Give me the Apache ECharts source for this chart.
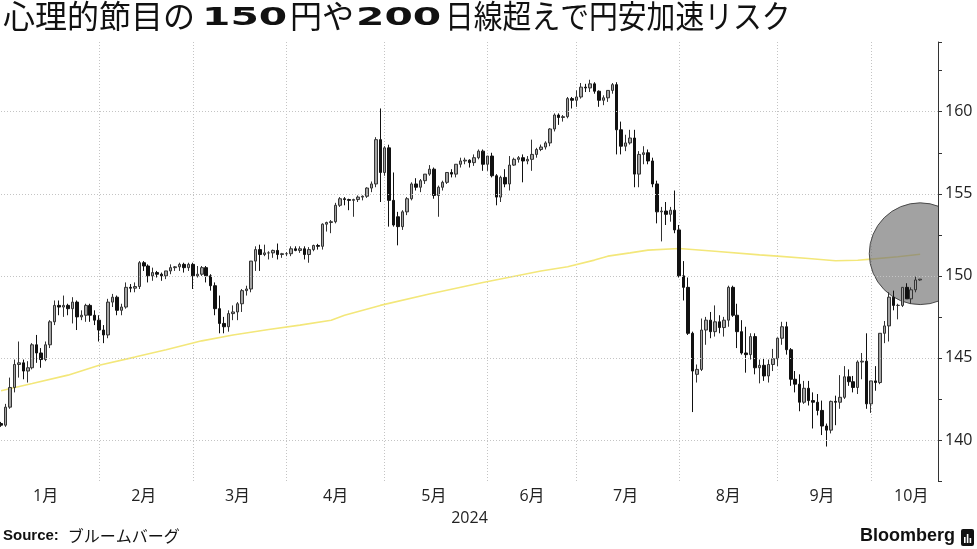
<!DOCTYPE html>
<html><head><meta charset="utf-8">
<script src="https://cdn.jsdelivr.net/npm/echarts@6/dist/echarts.min.js"></script>
<style>html,body{margin:0;padding:0;background:#fff}#c{width:977px;height:549px}</style>
</head><body><div id="c"></div>
<script>
// Daily USD/JPY candles [open, high, low, close], one per trading day from 2024-01-01
const ohlc = [
// Jan
[141.0,141.1,140.8,140.9],[140.9,142.2,140.8,142.0],[142.0,143.8,141.9,143.2],[143.2,144.9,142.9,144.6],
[144.6,146.0,143.8,144.7],[144.7,144.9,143.7,144.2],[144.2,144.8,143.5,144.4],[144.4,145.9,144.3,145.8],
[145.8,146.4,144.7,145.3],[145.3,145.6,144.4,144.9],[144.9,146.0,144.8,145.8],[145.8,147.3,145.6,147.2],
[147.2,148.5,147.0,148.2],[148.2,148.5,147.6,148.1],[148.1,148.8,147.5,148.2],[148.2,148.3,147.6,148.0],
[148.0,148.7,147.1,148.4],[148.4,148.5,146.7,147.5],[147.5,147.9,147.3,147.6],[147.6,148.3,147.2,148.2],
[148.2,148.3,147.2,147.6],[147.6,147.9,147.0,147.3],[147.3,147.6,146.0,146.7],
// Feb
[146.7,147.0,145.9,146.4],[146.4,148.6,146.2,148.4],[148.4,148.9,148.1,148.7],[148.7,148.8,147.6,147.9],
[147.9,148.3,147.6,148.1],[148.1,149.6,148.0,149.3],[149.3,149.5,149.0,149.25],[149.25,149.6,149.0,149.35],
[149.35,150.9,149.2,150.8],[150.8,150.9,150.3,150.6],[150.6,150.7,149.6,150.0],[150.0,150.5,149.7,150.2],
[150.2,150.3,149.9,150.1],[150.1,150.2,149.7,150.0],[150.0,150.3,149.8,150.3],[150.3,150.7,150.1,150.5],
[150.5,150.6,150.3,150.55],[150.55,150.8,150.3,150.7],[150.7,150.8,150.2,150.5],[150.5,150.8,150.3,150.7],
[150.7,150.8,149.2,150.0],
// Mar
[150.0,150.6,149.9,150.1],[150.1,150.6,150.0,150.5],[150.5,150.6,149.6,150.0],[150.0,150.1,149.1,149.4],
[149.4,149.6,147.6,148.0],[148.0,148.8,146.5,147.1],[147.1,147.5,146.5,146.9],[146.9,147.9,146.6,147.7],
[147.7,148.2,147.3,147.8],[147.8,148.4,147.3,148.3],[148.3,149.2,147.8,149.1],[149.1,149.4,148.8,149.2],
[149.2,150.9,149.0,150.9],[150.9,151.8,150.3,151.6],[151.6,151.9,150.3,151.3],[151.3,151.9,151.2,151.4],
[151.4,151.5,151.0,151.4],[151.4,151.6,151.1,151.55],[151.55,151.97,151.0,151.3],[151.3,151.4,151.1,151.35],
[151.35,151.45,151.2,151.35],
// Apr
[151.35,151.8,151.2,151.65],[151.65,151.8,151.5,151.55],[151.55,151.8,151.4,151.65],[151.65,151.8,151.0,151.3],
[151.3,151.75,150.8,151.6],[151.6,151.9,151.5,151.85],[151.85,151.95,151.6,151.8],[151.8,153.2,151.6,153.15],
[153.15,153.3,152.7,153.25],[153.25,153.4,152.6,153.3],[153.3,154.45,153.2,154.3],[154.3,154.8,154.2,154.7],
[154.7,154.8,154.3,154.65],[154.65,154.7,154.0,154.6],[154.6,154.7,153.6,154.65],[154.65,154.9,154.5,154.8],
[154.8,154.9,154.6,154.85],[154.85,155.4,154.75,155.35],[155.35,155.75,155.1,155.6],[155.6,158.45,155.4,158.3],
[158.3,160.2,154.5,156.3],[156.3,157.9,156.1,157.8],
// May
[157.8,157.99,153.0,154.6],[154.6,156.3,153.0,153.1],[153.6,153.9,151.86,153.0],[153.0,154.0,152.8,153.9],
[153.9,154.8,153.7,154.7],[154.7,155.7,154.6,155.6],[155.6,155.95,155.2,155.4],[155.4,155.9,155.1,155.8],
[155.8,156.2,155.6,156.2],[156.2,156.75,156.1,156.5],[156.5,156.6,154.7,154.9],[154.9,155.5,153.6,155.4],
[155.4,155.8,155.2,155.7],[155.7,156.3,155.6,156.3],[156.3,156.5,156.0,156.2],[156.2,156.8,156.0,156.8],
[156.8,157.2,156.6,157.0],[157.0,157.2,156.8,157.05],[157.05,157.1,156.6,156.9],[156.9,157.4,156.7,157.2],
[157.2,157.7,157.1,157.6],[157.6,157.7,156.4,156.8],[156.8,157.3,156.4,157.3],
// Jun
[157.3,157.5,156.0,156.1],[156.1,156.2,154.3,154.8],[154.8,156.1,154.5,156.0],[156.0,156.5,155.4,155.6],
[155.6,157.3,155.2,156.75],[156.75,157.2,156.7,157.1],[157.1,157.3,156.9,157.2],[157.2,157.4,155.7,157.0],
[157.0,157.3,156.8,157.1],[157.1,158.3,156.4,157.4],[157.4,157.8,157.2,157.7],[157.7,158.0,157.6,157.85],
[157.85,158.2,157.7,158.1],[158.1,159.0,157.9,158.95],[158.95,159.9,158.8,159.8],[159.8,159.9,159.2,159.65],
[159.65,159.8,159.4,159.7],[159.7,160.9,159.6,160.8],[160.8,160.9,160.2,160.7],[160.7,161.3,160.3,160.9],
// Jul
[160.9,161.75,160.8,161.5],[161.5,161.7,161.2,161.45],[161.45,161.95,161.2,161.7],[161.7,161.8,161.1,161.25],
[161.25,161.3,160.3,160.7],[160.7,161.0,160.4,160.85],[160.85,161.3,160.6,161.3],[161.3,161.75,161.1,161.65],
[161.65,161.8,157.4,158.9],[158.9,159.4,157.4,157.9],[157.9,158.6,157.6,158.1],[158.1,158.9,158.0,158.4],
[158.4,158.9,155.4,156.2],[156.2,157.6,155.4,157.4],[157.4,157.9,156.8,157.5],[157.5,157.7,156.8,157.0],
[157.0,157.2,155.4,155.6],[155.6,155.8,153.2,153.9],[153.9,154.2,152.1,153.95],[153.95,154.5,153.1,153.75],
[153.75,154.2,153.3,154.0],[154.0,155.2,152.6,152.8],[152.8,153.1,149.9,150.0],
// Aug
[150.0,150.9,148.5,149.3],[149.3,149.9,146.4,146.5],[146.5,146.6,141.7,144.2],[144.0,144.6,143.5,144.3],
[144.3,147.4,144.2,146.7],[146.7,147.5,145.8,147.3],[147.3,147.8,146.2,146.6],[146.6,148.2,146.3,147.2],
[147.2,147.6,146.5,146.85],[146.85,147.5,146.3,147.3],[147.3,149.4,146.9,149.3],[149.3,149.4,147.5,147.6],
[147.6,148.3,145.6,146.6],[146.6,147.3,145.2,145.3],[145.3,146.9,144.1,145.2],[145.2,146.5,144.9,146.3],
[146.3,146.5,144.0,144.4],[144.4,144.9,143.45,144.55],[144.55,145.0,143.6,143.9],[143.9,144.9,143.5,144.6],
[144.6,145.55,144.2,144.95],[144.95,146.25,144.5,146.2],
// Sep
[146.2,147.2,145.8,146.9],[146.9,147.2,145.2,145.5],[145.5,145.6,143.3,143.7],[143.7,144.2,142.9,143.4],
[143.4,144.0,141.75,142.3],[142.3,143.6,142.2,143.15],[143.15,143.6,142.1,142.4],[142.4,142.9,140.7,142.3],
[142.3,142.8,141.5,141.8],[141.8,142.4,140.3,140.85],[140.85,141.0,139.6,140.6],[140.6,142.4,140.4,142.35],
[142.35,142.7,140.9,142.3],[142.3,143.95,141.9,142.6],[142.6,144.5,142.5,143.85],[143.85,144.3,143.3,143.55],
[143.55,143.9,142.9,143.2],[143.2,144.85,142.8,144.75],[144.75,145.3,143.7,144.8],[144.8,146.5,141.9,142.2],
[142.2,143.6,141.65,143.6],
// Oct
[143.6,144.5,143.0,143.5],[143.5,146.5,143.4,146.5],[146.5,147.25,145.9,146.95],[146.95,149.0,146.0,148.7],
[148.7,149.1,147.9,148.2],[148.2,148.3,147.35,148.2],[148.2,149.3,148.1,149.3],[149.3,149.55,148.6,148.6],
[148.6,149.3,148.3,149.15],[149.15,149.95,149.0,149.75],[149.75,149.8,149.7,149.8]
];
// 200-day moving average: [trading-day index, value]
const maPoints = [
[0,143.0],[7,143.44],[15,143.95],[22,144.55],[30,145.05],[37,145.5],[45,146.04],[52,146.4],
[60,146.73],[67,147.0],[74,147.3],[77,147.6],[85,148.2],[96,148.9],[108,149.6],[121,150.3],
[127,150.55],[133,150.96],[136,151.2],[141,151.4],[145,151.57],[152,151.67],[160,151.5],
[170,151.28],[174,151.2],[181,151.06],[187,150.92],[192,150.95],[195,151.02],[201,151.16],[206,151.32]
];
const yGridValues = [140, 145, 150, 155, 160];
const monthLabelDates = ['2024-01-15','2024-02-14','2024-03-14','2024-04-15','2024-05-15',
  '2024-06-14','2024-07-15','2024-08-15','2024-09-13','2024-10-11'];
const highlight = [[206, 151.35]];
const highlightRadius = 3.1; // in yen
const titleParts = ['心理的節目の', '150', '円や', '200', '日線超えで円安加速リスク'];

// trading-day categories (weekdays)
const dates = [];
(function(){
  const d = new Date(Date.UTC(2024,0,1));
  const end = Date.UTC(2024,9,21);
  while (d.getTime() <= end) {
    const w = d.getUTCDay();
    if (w !== 0 && w !== 6) dates.push(d.toISOString().slice(0,10));
    d.setUTCDate(d.getUTCDate()+1);
  }
})();
const candleData = ohlc.map(r => [r[0], r[3], r[2], r[1]]);
const monthEnd = new Set();
for (let i = 0; i < dates.length - 1; i++) {
  if (dates[i].slice(5,7) !== dates[i+1].slice(5,7)) monthEnd.add(i);
}
const labelSet = new Set(monthLabelDates);

const chart = echarts.init(document.getElementById('c'), null, {renderer:'canvas'});
const cjk = "'Noto Sans CJK JP', sans-serif";
const num = "'Open Sans', 'Noto Sans CJK JP', sans-serif";
const cjkFont = "normal 32px 'Noto Sans CJK JP', sans-serif";
const digFont = "bold 24px 'DejaVu Sans', sans-serif";
chart.setOption({
  animation: false,
  backgroundColor: '#fff',
  grid: {left: 1, right: 39, top: 42, bottom: 68, containLabel: false},
  xAxis: {
    type: 'category', data: dates, boundaryGap: false,
    axisLine: {show: false}, axisTick: {show: false},
    axisLabel: {
      interval: (i, v) => labelSet.has(v),
      formatter: v => parseInt(v.slice(5,7), 10) + '月',
      fontFamily: num, fontSize: 16, color: '#222', margin: 7
    },
    splitLine: {show: true, interval: (i) => monthEnd.has(i), lineStyle: {type: [1,2], color: '#c4c4c4', width: 1}},
    name: '2024', nameLocation: 'middle', nameGap: 29,
    nameTextStyle: {fontFamily: num, fontSize: 16, color: '#222'}
  },
  yAxis: {
    type: 'value', position: 'right', min: 137.5, max: 164.25, interval: 2.5,
    axisLine: {show: true, lineStyle: {color: '#333', width: 1}},
    axisTick: {show: true, length: 4, lineStyle: {color: '#333'}},
    splitLine: {show: false},
    axisLabel: {
      formatter: v => (Math.abs(v % 5) < 1e-6 ? String(Math.round(v)) : ''),
      fontFamily: num, fontSize: 16, color: '#222', margin: 7
    }
  },
  series: [
    {
      type: 'line', name: '200日線', data: maPoints, z: 1, symbol: 'none', smooth: false,
      lineStyle: {color: '#f3e77a', width: 1.6},
      markLine: {
        silent: true, symbol: 'none', label: {show: false}, animation: false,
        lineStyle: {type: [1,2], color: '#c4c4c4', width: 1},
        data: yGridValues.map(v => ({yAxis: v}))
      }
    },
    {
      type: 'custom', z: 2, clip: true, data: highlight,
      renderItem: (params, api) => {
        const p = api.coord([api.value(0), api.value(1)]);
        const r = api.size([0, highlightRadius])[1];
        return {type: 'circle', shape: {cx: p[0], cy: p[1], r: r},
          style: {fill: 'rgba(118,118,118,0.68)', stroke: '#4a4a4a', lineWidth: 1}};
      }
    },
    {
      type: 'candlestick', name: 'USD/JPY', data: candleData, z: 3, barWidth: 3,
      itemStyle: {color: '#a3a3a3', color0: '#111', borderColor: '#333', borderColor0: '#111', borderWidth: 1}
    }
  ],
  graphic: [
    {type: 'group', left: 3, top: 0, children: [
      {type: 'text', x: 0, y: 19, style: {text: titleParts[0], font: cjkFont, fill: '#111', verticalAlign: 'middle'}},
      {type: 'text', x: 199, y: 21.5, scaleX: 1.7, style: {text: titleParts[1], font: digFont, fill: '#111', verticalAlign: 'middle'}},
      {type: 'text', x: 287, y: 19, style: {text: titleParts[2], font: cjkFont, fill: '#111', verticalAlign: 'middle'}},
      {type: 'text', x: 353, y: 21.5, scaleX: 1.7, style: {text: titleParts[3], font: digFont, fill: '#111', verticalAlign: 'middle'}},
      {type: 'text', x: 442, y: 19, scaleX: 0.9, style: {text: titleParts[4], font: cjkFont, fill: '#111', verticalAlign: 'middle'}}
    ]},
    {type: 'text', left: 3, top: 528, style: {
      text: '{b|Source:}{n|ブルームバーグ}',
      rich: {
        b: {fontFamily: "'Liberation Sans', sans-serif", fontWeight: 'bold', fontSize: 15, fill: '#111', padding: [0, 9, 0, 0]},
        n: {fontFamily: cjk, fontSize: 16, fill: '#111'}
      }}},
    {type: 'text', right: 22, top: 527, style: {text: 'Bloomberg', font: "bold 18px 'Liberation Sans', sans-serif", fill: '#111'}},
    {type: 'group', right: 3, top: 529, children: [
      {type: 'rect', shape: {x: 0, y: 0, width: 13, height: 17, r: 2}, style: {fill: '#111'}},
      {type: 'rect', shape: {x: 3, y: 8, width: 1.6, height: 6}, style: {fill: '#fff'}},
      {type: 'rect', shape: {x: 5.8, y: 5, width: 1.6, height: 9}, style: {fill: '#fff'}},
      {type: 'rect', shape: {x: 8.6, y: 9, width: 1.6, height: 5}, style: {fill: '#fff'}}
    ]}
  ]
});
</script></body></html>
